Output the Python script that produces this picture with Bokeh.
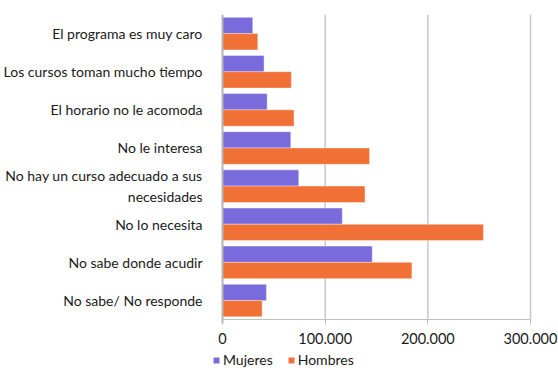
from bokeh.plotting import figure
from bokeh.models import (Legend, LegendItem, ColumnDataSource, Range1d, FixedTicker)
from bokeh.transform import dodge
from bokeh.embed import file_html
from bokeh.resources import INLINE

categories = [
    "El programa es muy caro",
    "Los cursos toman mucho tiempo",
    "El horario no le acomoda",
    "No le interesa",
    "No hay un curso adecuado a sus\nnecesidades",
    "No lo necesita",
    "No sabe donde acudir",
    "No sabe/ No responde",
]
mujeres = [29500, 40500, 43500, 66500, 74300, 116700, 145900, 42800]
hombres = [34400, 67100, 69700, 143300, 138800, 254200, 184500, 38600]
x_ticks = [0, 100000, 200000, 300000]
x_tick_labels = ["0", "100.000", "200.000", "300.000"]
series_names = ["Mujeres", "Hombres"]

C_M = "#7A6BDD"
C_H = "#F07036"
FONT = "Lato"
TXT = "#1a1a1a"

n = len(categories)
ypos = [n - 0.5 - i for i in range(n)]          # category slots, first on top

p = figure(frame_width=346, frame_height=354, output_backend="svg", toolbar_location=None,
           y_range=Range1d(-1.285, n), x_range=Range1d(-9740, 327270),
           min_border_left=212, min_border_right=0, min_border_top=14, min_border_bottom=0)
p.outline_line_color = None
p.background_fill_color = "white"
p.xgrid.visible = False
p.ygrid.visible = False

# vertical grid lines at the value ticks (from the tick list)
grid_src = ColumnDataSource(dict(x=x_ticks[1:], y0=[0] * (len(x_ticks) - 1),
                                 y1=[n] * (len(x_ticks) - 1)))
p.segment(x0="x", x1="x", y0="y0", y1="y1", source=grid_src,
          line_color="#c8c8c8", line_width=1.5)

src = ColumnDataSource(dict(y=ypos, m=mujeres, h=hombres))
rm = p.hbar(y=dodge("y", 0.21), right="m", left=0, height=0.43,
            source=src, fill_color=C_M, line_color="#ffffff", line_width=0.6, line_alpha=0.7)
rh = p.hbar(y=dodge("y", -0.215), right="h", left=0, height=0.43,
            source=src, fill_color=C_H, line_color="#ffffff", line_width=0.6, line_alpha=0.7)

# vertical category axis line at value 0
p.segment(x0=[x_ticks[0]], x1=[x_ticks[0]], y0=[-0.1], y1=[n],
          line_color="#b4b4b4", line_width=2)

# x axis, drawn at the bottom of the category area
p.xaxis.fixed_location = 0
p.xaxis.bounds = (x_ticks[0], x_ticks[-1])
p.xaxis.ticker = FixedTicker(ticks=x_ticks)
p.xaxis.major_label_overrides = {t: l for t, l in zip(x_ticks, x_tick_labels)}
p.xaxis.axis_line_color = "#c0c0c0"
p.xaxis.axis_line_width = 1
p.xaxis.major_tick_line_color = "#c0c0c0"
p.xaxis.major_tick_out = 5
p.xaxis.major_tick_in = 0
p.xaxis.minor_tick_line_color = None
p.xaxis.major_label_standoff = 8
p.xaxis.major_label_text_font = FONT
p.xaxis.major_label_text_font_size = "14.5px"
p.xaxis.major_label_text_color = TXT

# y axis with the category labels
p.yaxis.ticker = FixedTicker(ticks=ypos)
p.yaxis.major_label_overrides = {y: c for y, c in zip(ypos, categories)}
p.yaxis.axis_line_color = None
p.yaxis.major_tick_line_color = None
p.yaxis.minor_tick_line_color = None
p.yaxis.major_label_standoff = 4
p.yaxis.major_label_text_font = FONT
p.yaxis.major_label_text_font_size = "14px"
p.yaxis.major_label_text_color = TXT

legend = Legend(items=[LegendItem(label=series_names[0], renderers=[rm]),
                       LegendItem(label=series_names[1], renderers=[rh])],
                orientation="horizontal", location=(0, 0),
                label_text_font=FONT, label_text_font_size="14px",
                label_text_color=TXT, glyph_width=8, glyph_height=8,
                label_height=14, label_standoff=3, spacing=14, padding=0, margin=0,
                border_line_color=None, background_fill_alpha=0)
p.add_layout(legend, "center")

open("out.html", "w").write(file_html(p, INLINE))
